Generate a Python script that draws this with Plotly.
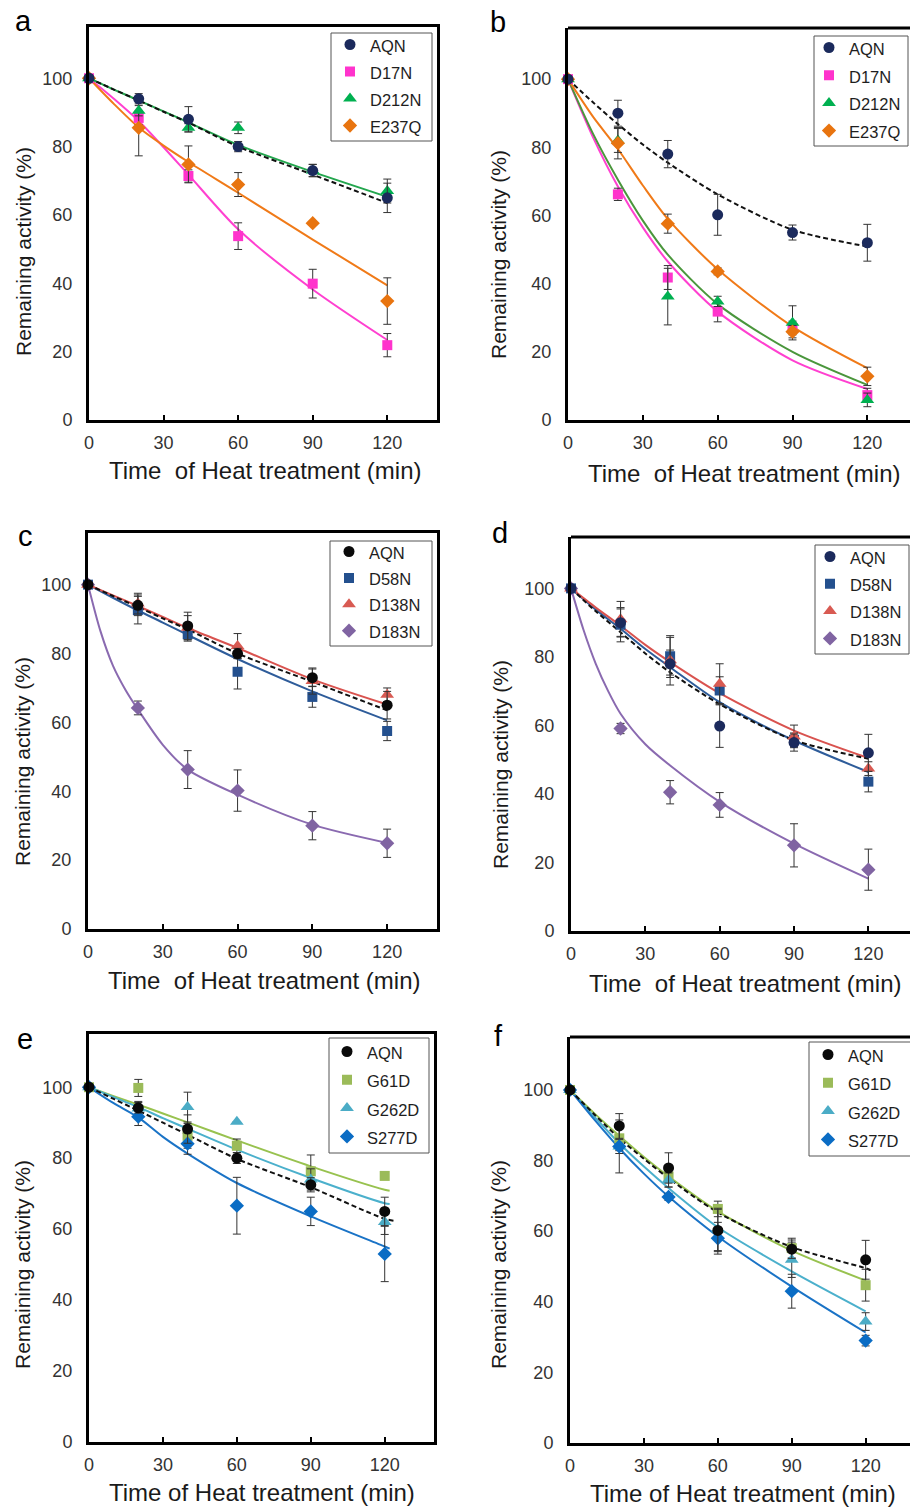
import plotly.graph_objects as go

W, H = 910, 1508

# ---------------- data ----------------
TIME = [0, 20, 40, 60, 90, 120]
X_TICKS = [0, 30, 60, 90, 120]
Y_TICKS = [0, 20, 40, 60, 80, 100]
X_TITLE_AD = "Time\u00a0 of Heat treatment (min)"
X_TITLE_EF = "Time of Heat treatment (min)"
Y_TITLE = "Remaining activity (%)"
PANEL_LETTERS = ["a", "b", "c", "d", "e", "f"]

# sample times of the fitted curves
FIT_T = [0, 10, 20, 30, 40, 60, 90, 120]
FIT_T_STEEP = [0, 5, 10, 15, 20, 30, 40, 60, 90, 120]
FIT_T_LONG = [0, 10, 20, 30, 40, 60, 90, 120, 122]
FIT_T_LONGER = [0, 10, 20, 30, 40, 60, 90, 120, 124.5]

# panel a
A_NAMES = ["AQN", "D17N", "D212N", "E237Q"]
A_AQN = [100, 94, 88, 80, 73, 65]
A_AQN_ERR = [0, 1.5, 3.7, 1.5, 1.8, 4.3]
A_D17N = [100, 88.4, 71.4, 53.8, 39.9, 21.9]
A_D17N_ERR = [0, 2, 1.8, 3.9, 4.2, 3.4]
A_D212N = [100, 90.5, 85.5, 85.5, 73, 67]
A_D212N_ERR = [0, 1.5, 1.2, 1.7, 1.8, 3.5]
A_E237Q = [100, 85.5, 74.8, 68.9, 57.6, 34.8]
A_E237Q_ERR = [0, 8.2, 5.4, 3.5, 0.5, 6.8]
A_AQN_FIT = [100, 96.7, 93.5, 90.2, 87, 80, 71.8, 63.5]
A_D17N_FIT = [100, 94, 87.5, 79.8, 71.8, 55.8, 38.2, 23.4]
A_D212N_FIT = [100, 96.7, 93.5, 90.3, 87.1, 80.5, 72.6, 65.3]
A_E237Q_FIT = [100, 92.5, 85.6, 80.3, 75.5, 66.5, 52.8, 39.4]

# panel b
B_NAMES = ["AQN", "D17N", "D212N", "E237Q"]
B_AQN = [100, 90, 78, 60.2, 55, 52]
B_AQN_ERR = [0, 3.8, 4, 6, 2.2, 5.4]
B_D17N = [100, 66.2, 41.8, 31.8, 27, 7.3]
B_D17N_ERR = [0, 1.8, 3.5, 3, 2, 2]
B_D212N = [100, 82, 36.2, 34.8, 28.5, 5.9]
B_D212N_ERR = [0, 3.5, 8.3, 1.5, 5, 2]
B_E237Q = [100, 81.2, 57.6, 43.6, 25.9, 12.8]
B_E237Q_ERR = [0, 4.6, 2.8, 1, 1.8, 2.7]
B_AQN_FIT = [100, 93.2, 86.8, 80.8, 75.5, 66.2, 55.8, 50.9]
B_D17N_FIT = [100, 83, 68.5, 56.5, 46.5, 31.8, 17.5, 9.1]
B_D212N_FIT = [100, 84, 70.5, 58.5, 48.5, 34, 20, 10.3]
B_E237Q_FIT = [100, 89, 79.5, 68.8, 59, 44.2, 27.4, 15.2]

# panel c
C_NAMES = ["AQN", "D58N", "D138N", "D183N"]
C_AQN = [100, 94, 88, 80, 73, 65]
C_AQN_ERR = [0, 3, 4, 1.5, 2.5, 4]
C_D58N = [100, 92.6, 85.6, 74.7, 67.4, 57.5]
C_D58N_ERR = [0, 4, 2, 5, 3, 2.8]
C_D138N = [100, 94.5, 87.5, 82.2, 72, 68]
C_D138N_ERR = [0, 3, 3.5, 3.6, 3.8, 2]
C_D183N = [100, 64.2, 46.3, 40.2, 30, 24.9]
C_D183N_ERR = [0, 2, 5.5, 6, 4.1, 4.1]
C_AQN_FIT = [100, 96.7, 93.5, 90.2, 87, 80, 71.8, 63.5]
C_D58N_FIT = [100, 96.2, 92.5, 89, 85.4, 78.4, 69, 60.6]
C_D138N_FIT = [100, 96.9, 93.8, 90.6, 87.4, 81.6, 72.5, 65.2]
C_D183N_FIT = [100, 86.5, 76.5, 69.5, 63.8, 53.5, 46.3, 39, 30.3, 25]

# panel d
D_NAMES = ["AQN", "D58N", "D138N", "D183N"]
D_AQN = [100, 90, 78, 59.8, 55, 52]
D_AQN_ERR = [0, 4, 4, 6.2, 2.5, 5.4]
D_D58N = [100, 89.4, 80.2, 70.2, 55.8, 43.6]
D_D58N_ERR = [0, 5, 5.5, 4, 2, 3]
D_D138N = [100, 91, 79, 72.2, 56.8, 47.4]
D_D138N_ERR = [0, 5.2, 7.2, 5.8, 3.3, 2]
D_D183N = [100, 59.1, 40.5, 36.8, 25, 17.9]
D_D183N_ERR = [0, 1.5, 3.4, 3.6, 6.3, 6]
D_AQN_FIT = [100, 93.3, 87.2, 81, 75.5, 66.2, 55.7, 50.3]
D_D58N_FIT = [100, 93.8, 88.2, 82.3, 77, 66.8, 55.6, 46.4]
D_D138N_FIT = [100, 94.4, 89.1, 83.5, 78.5, 69.4, 58.5, 50.5]
D_D183N_FIT = [100, 88, 78, 70, 63.4, 54.5, 48.3, 37.7, 25.5, 15.3]

# panel e
E_NAMES = ["AQN", "G61D", "G262D", "S277D"]
E_AQN = [100, 94.2, 88.2, 80, 72.5, 65]
E_AQN_ERR = [0, 1.5, 4, 1.5, 2, 4]
E_G61D = [100, 99.8, 86.3, 83.5, 76.3, 75]
E_G61D_ERR = [0, 2.4, 3.5, 1.9, 4.6, 0]
E_G262D = [100, 94, 94.4, 90.3, 74, 62]
E_G262D_ERR = [0, 2, 4.2, 0, 3, 3.5]
E_S277D = [100, 91.7, 84.1, 66.6, 65, 53]
E_S277D_ERR = [0, 2.5, 3, 8, 4, 7.8]
E_AQN_FIT = [100, 96.7, 93.4, 90, 86.6, 79.8, 71.8, 62.9, 62.3]
E_G61D_FIT = [100, 97.5, 95.1, 92.6, 90.1, 85, 77.7, 71.1, 70.8]
E_G262D_FIT = [100, 97.2, 94.4, 91.3, 88.3, 82.4, 74.4, 67.3, 67.1]
E_S277D_FIT = [100, 95.5, 91.5, 86, 81.3, 73, 63.6, 55.1, 54.5]

# panel f
F_NAMES = ["AQN", "G61D", "G262D", "S277D"]
F_AQN = [100, 89.8, 77.9, 60.2, 54.9, 51.9]
F_AQN_ERR = [0, 3.5, 4.3, 6, 2.6, 5.5]
F_G61D = [100, 86.3, 75.5, 66.3, 55.2, 44.7]
F_G61D_ERR = [0, 3.5, 3, 2.2, 2.8, 4.5]
F_G262D = [100, 84, 74.5, 60.5, 51.9, 34.4]
F_G262D_ERR = [0, 7.5, 2, 6, 5, 2.5]
F_S277D = [100, 84, 69.7, 58, 43, 29]
F_S277D_ERR = [0, 2, 1, 4.5, 4.8, 1.5]
F_AQN_FIT = [100, 93, 86.3, 80.5, 75, 65.3, 55.5, 49.5, 48.9]
F_G61D_FIT = [100, 93.3, 87, 81, 75.5, 65.6, 54.5, 46]
F_G262D_FIT = [100, 92.3, 84.9, 78.3, 72.2, 61.1, 48.6, 37.3]
F_S277D_FIT = [100, 91.5, 83.5, 76.3, 69.8, 58.5, 44.3, 31.3]

# ---------------- styles ----------------
FONT = "Liberation Sans, Arial, sans-serif"
NAVY = "#1B2A5C"
BLACK = "#0A0A0A"
MAGENTA = "#FF33CC"
GREEN = "#00B050"
ORANGE = "#E8740F"
BLUE58 = "#24508E"
RED138 = "#D85A52"
PURPLE = "#8064A2"
G61 = "#9BBB59"
G262 = "#4BACC6"
S277 = "#0A6CC4"

SYM = {"circle": 11, "square": 10, "triangle-up": 12, "diamond": 11}

# series spec per panel: (name, values, err, fit_t, fit, marker color, line color, symbol, dashed)
PANEL_SERIES = [
    [(A_NAMES[1], A_D17N, A_D17N_ERR, FIT_T, A_D17N_FIT, MAGENTA, "#FF40D0", "square", False),
     (A_NAMES[3], A_E237Q, A_E237Q_ERR, FIT_T, A_E237Q_FIT, ORANGE, "#F07A18", "diamond", False),
     (A_NAMES[2], A_D212N, A_D212N_ERR, FIT_T, A_D212N_FIT, GREEN, "#23A64E", "triangle-up", False),
     (A_NAMES[0], A_AQN, A_AQN_ERR, FIT_T, A_AQN_FIT, NAVY, "#111111", "circle", True)],
    [(B_NAMES[1], B_D17N, B_D17N_ERR, FIT_T, B_D17N_FIT, MAGENTA, "#FF40D0", "square", False),
     (B_NAMES[2], B_D212N, B_D212N_ERR, FIT_T, B_D212N_FIT, GREEN, "#4A963C", "triangle-up", False),
     (B_NAMES[3], B_E237Q, B_E237Q_ERR, FIT_T, B_E237Q_FIT, ORANGE, "#F07A18", "diamond", False),
     (B_NAMES[0], B_AQN, B_AQN_ERR, FIT_T, B_AQN_FIT, NAVY, "#111111", "circle", True)],
    [(C_NAMES[3], C_D183N, C_D183N_ERR, FIT_T_STEEP, C_D183N_FIT, PURPLE, "#8A6AB0", "diamond", False),
     (C_NAMES[1], C_D58N, C_D58N_ERR, FIT_T, C_D58N_FIT, BLUE58, "#2E5C9A", "square", False),
     (C_NAMES[2], C_D138N, C_D138N_ERR, FIT_T, C_D138N_FIT, RED138, "#D9534F", "triangle-up", False),
     (C_NAMES[0], C_AQN, C_AQN_ERR, FIT_T, C_AQN_FIT, BLACK, "#111111", "circle", True)],
    [(D_NAMES[3], D_D183N, D_D183N_ERR, FIT_T_STEEP, D_D183N_FIT, PURPLE, "#8A6AB0", "diamond", False),
     (D_NAMES[1], D_D58N, D_D58N_ERR, FIT_T, D_D58N_FIT, BLUE58, "#2E5C9A", "square", False),
     (D_NAMES[2], D_D138N, D_D138N_ERR, FIT_T, D_D138N_FIT, RED138, "#D9534F", "triangle-up", False),
     (D_NAMES[0], D_AQN, D_AQN_ERR, FIT_T, D_AQN_FIT, NAVY, "#111111", "circle", True)],
    [(E_NAMES[1], E_G61D, E_G61D_ERR, FIT_T_LONG, E_G61D_FIT, G61, "#98C24F", "square", False),
     (E_NAMES[2], E_G262D, E_G262D_ERR, FIT_T_LONG, E_G262D_FIT, G262, "#4BB0CC", "triangle-up", False),
     (E_NAMES[3], E_S277D, E_S277D_ERR, FIT_T_LONG, E_S277D_FIT, S277, "#1A73C6", "diamond", False),
     (E_NAMES[0], E_AQN, E_AQN_ERR, FIT_T_LONGER, E_AQN_FIT, BLACK, "#111111", "circle", True)],
    [(F_NAMES[1], F_G61D, F_G61D_ERR, FIT_T, F_G61D_FIT, G61, "#98C24F", "square", False),
     (F_NAMES[2], F_G262D, F_G262D_ERR, FIT_T, F_G262D_FIT, G262, "#4BB0CC", "triangle-up", False),
     (F_NAMES[3], F_S277D, F_S277D_ERR, FIT_T, F_S277D_FIT, S277, "#1A73C6", "diamond", False),
     (F_NAMES[0], F_AQN, F_AQN_ERR, FIT_T_LONG, F_AQN_FIT, BLACK, "#111111", "circle", True)],
]
LEGEND_ORDER = [A_NAMES, B_NAMES, C_NAMES, D_NAMES, E_NAMES, F_NAMES]

# panel geometry in pixels
# legbox: (left, top, right, bottom); legitem: (marker x, first entry center y, spacing)
PANELS = [
    dict(left=89, right=437, top=27, bottom=420, xmax=140, full=True,
         legbox=(331, 33, 432, 141), legitem=(355, 46, 27.0),
         letter=(23, 21), xt=(265, 471), yt=(23, 252), xtitle=X_TITLE_AD),
    dict(left=568, right=910, top=28, bottom=420, xmax=137.1, full=False,
         legbox=(814, 36, 908, 146), legitem=(834, 49, 27.7),
         letter=(498, 22), xt=(744, 473), yt=(498, 255), xtitle=X_TITLE_AD),
    dict(left=88, right=437, top=533, bottom=929, xmax=140, full=True,
         legbox=(330, 541, 432, 646), legitem=(354, 553, 26.4),
         letter=(25, 536), xt=(264, 980), yt=(22, 762), xtitle=X_TITLE_AD),
    dict(left=571, right=910, top=537, bottom=931, xmax=136.8, full=False,
         legbox=(815, 545, 909, 654), legitem=(835, 558, 27.3),
         letter=(500, 533), xt=(745, 983), yt=(500, 765), xtitle=X_TITLE_AD),
    dict(left=89, right=434, top=1034, bottom=1442, xmax=140, full=True,
         legbox=(329, 1038, 429, 1153), legitem=(352, 1053, 28.3),
         letter=(25, 1039), xt=(262, 1492), yt=(22, 1265), xtitle=X_TITLE_EF),
    dict(left=570, right=910, top=1037, bottom=1443, xmax=138.0, full=False,
         legbox=(809, 1042, 914, 1156), legitem=(833, 1056, 28.3),
         letter=(498, 1036), xt=(743, 1493), yt=(498, 1265), xtitle=X_TITLE_EF),
]


def px(xp):
    return xp / W


def py(yp):
    return 1 - yp / H


fig = go.Figure()
annotations = []
shapes = []
layout = dict(
    width=W, height=H, autosize=False,
    margin=dict(l=0, r=0, t=0, b=0, pad=0),
    paper_bgcolor="white", plot_bgcolor="white",
    font=dict(family=FONT, color="#333333"),
)

for i, (p, series, order) in enumerate(zip(PANELS, PANEL_SERIES, LEGEND_ORDER)):
    n = i + 1
    xa = "x" if n == 1 else f"x{n}"
    ya = "y" if n == 1 else f"y{n}"
    leg = "legend" if n == 1 else f"legend{n}"
    # fitted lines first
    for (name, vals, err, ft, fit, mcol, lcol, sym, dashed) in series:
        fig.add_trace(go.Scatter(
            x=ft, y=fit, mode="lines", xaxis=xa, yaxis=ya, showlegend=False,
            line=dict(color=lcol, width=2, shape="spline", smoothing=0.8,
                      dash="5px,3px" if dashed else "solid"),
            hoverinfo="skip", cliponaxis=False,
        ))
    for (nm, vals, err, ft, fit, mcol, lcol, sym, dashed) in series:
        fig.add_trace(go.Scatter(
            x=TIME, y=vals, mode="markers", xaxis=xa, yaxis=ya,
            name=f"<span style='font-size:16.5px'>{nm}</span>",
            legend=leg, legendrank=order.index(nm) + 1,
            marker=dict(symbol=sym, size=SYM[sym], color=mcol, line=dict(width=0)),
            error_y=dict(type="data", array=err, visible=True, color="#333333",
                         thickness=1, width=4),
            cliponaxis=False,
        ))
    layout[("xaxis" if n == 1 else f"xaxis{n}")] = dict(
        domain=[px(p["left"]), px(p["right"])], range=[0, p["xmax"]], anchor=ya,
        tickvals=X_TICKS, ticks="inside", ticklen=5, tickwidth=2, tickcolor="black",
        showline=True, linecolor="black", linewidth=3, mirror=p["full"],
        showgrid=False, zeroline=False, automargin=False,
        tickfont=dict(size=18, color="#333333", family=FONT), ticklabelstandoff=4,
    )
    layout[("yaxis" if n == 1 else f"yaxis{n}")] = dict(
        domain=[py(p["bottom"]), py(p["top"])], range=[0, 115], anchor=xa,
        tickvals=Y_TICKS, ticks="",
        showline=True, linecolor="black", linewidth=3, mirror=p["full"],
        showgrid=False, zeroline=False, automargin=False,
        tickfont=dict(size=18, color="#333333", family=FONT), ticklabelstandoff=10,
    )
    if not p["full"]:
        shapes.append(dict(type="line", xref="paper", yref="paper",
                           x0=px(p["left"]), x1=1.0, y0=py(p["top"]), y1=py(p["top"]),
                           line=dict(color="black", width=3)))
    # legend frame
    bl, bt, br, bb = p["legbox"]
    shapes.append(dict(type="rect", xref="paper", yref="paper", layer="above",
                       x0=px(bl), x1=px(br), y0=py(bb), y1=py(bt),
                       fillcolor="white", line=dict(color="#555555", width=1)))
    mx, my, sp = p["legitem"]
    fs = (sp - 3) / 1.3
    layout[leg] = dict(
        x=px(mx - 5 - 20), y=py(my - (sp / 2 + 6.5)), xanchor="left", yanchor="top",
        bgcolor="rgba(0,0,0,0)", borderwidth=0,
        font=dict(size=fs, color="#1e1e1e", family=FONT),
        itemwidth=30, tracegroupgap=0, traceorder="normal",
    )
    annotations.append(dict(text=PANEL_LETTERS[i], xref="paper", yref="paper",
                            x=px(p["letter"][0]), y=py(p["letter"][1]),
                            xanchor="center", yanchor="middle", showarrow=False,
                            font=dict(size=29, color="black", family=FONT)))
    annotations.append(dict(text=p["xtitle"], xref="paper", yref="paper",
                            x=px(p["xt"][0]), y=py(p["xt"][1]),
                            xanchor="center", yanchor="middle", showarrow=False,
                            font=dict(size=24, color="#1a1a1a", family=FONT)))
    annotations.append(dict(text=Y_TITLE, xref="paper", yref="paper", textangle=-90,
                            x=px(p["yt"][0]), y=py(p["yt"][1]),
                            xanchor="center", yanchor="middle", showarrow=False,
                            font=dict(size=21, color="#1a1a1a", family=FONT)))

layout["annotations"] = annotations
layout["shapes"] = shapes
fig.update_layout(**layout)
fig.write_html("out.html", config={"displayModeBar": False},
               post_script="document.body.style.margin='0';document.body.style.overflow='hidden';")
